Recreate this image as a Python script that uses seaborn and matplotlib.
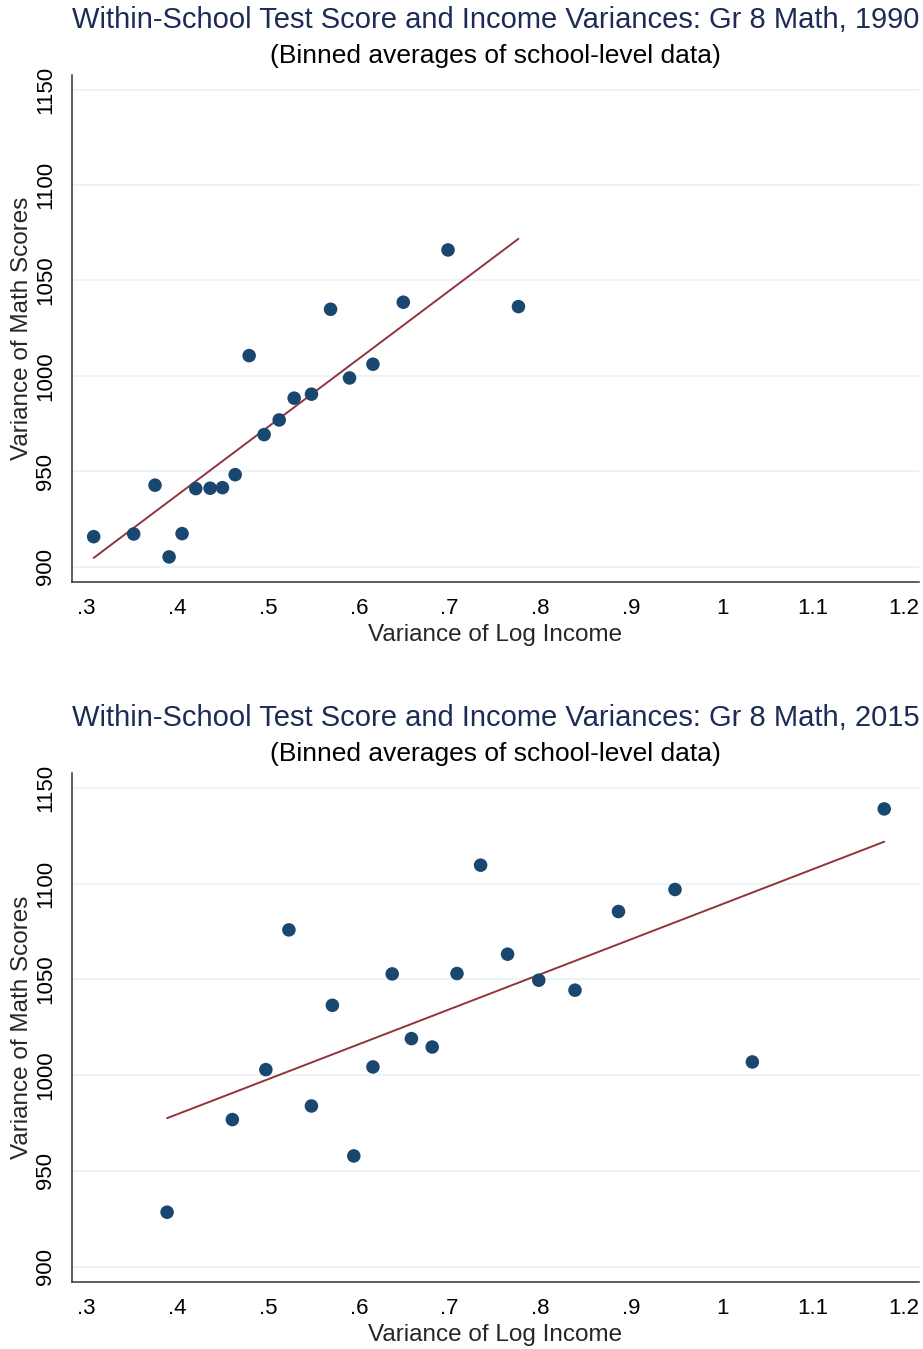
import numpy as np
import pandas as pd
import matplotlib
matplotlib.use("Agg")
import matplotlib.pyplot as plt
import seaborn as sns

# ---- data ----
x_1990 = [0.3077, 0.3518, 0.3753, 0.3908, 0.4051, 0.4202, 0.4360, 0.4496, 0.4636, 0.4790,
          0.4955, 0.5121, 0.5286, 0.5477, 0.5687, 0.5896, 0.6154, 0.6488, 0.6981, 0.7757]
y_1990 = [915.7, 917.1, 942.7, 905.1, 917.3, 940.9, 941.1, 941.4, 948.2, 1010.6,
          969.2, 976.9, 988.3, 990.4, 1034.9, 998.9, 1006.1, 1038.6, 1066.0, 1036.3]
fit_1990 = [794.6, 357.4]  # intercept, slope

x_2015 = [0.3886, 0.4605, 0.4974, 0.5228, 0.5476, 0.5707, 0.5943, 0.6154, 0.6366, 0.6578,
          0.6807, 0.7080, 0.7340, 0.7637, 0.7981, 0.8380, 0.8859, 0.9482, 1.0334, 1.1787]
y_2015 = [928.4, 976.8, 1002.9, 1075.9, 983.9, 1036.5, 957.8, 1004.3, 1052.9, 1019.1,
          1014.7, 1053.1, 1109.7, 1063.2, 1049.6, 1044.4, 1085.5, 1097.0, 1006.9, 1139.1]
fit_2015 = [906.5, 182.8]

x_ticks = [0.3, 0.4, 0.5, 0.6, 0.7, 0.8, 0.9, 1.0, 1.1, 1.2]
x_ticklabels = [".3", ".4", ".5", ".6", ".7", ".8", ".9", "1", "1.1", "1.2"]
y_ticks = [900, 950, 1000, 1050, 1100, 1150]

titles = ["Within-School Test Score and Income Variances: Gr 8 Math, 1990",
          "Within-School Test Score and Income Variances: Gr 8 Math, 2015"]
subtitle = "(Binned averages of school-level data)"
xlabel = "Variance of Log Income"
ylabel = "Variance of Math Scores"

# ---- style ----
sns.set_theme(style="white")
plt.rcParams["font.family"] = ["Liberation Sans", "DejaVu Sans"]

POINT = "#1a476f"
LINE = "#90353b"
GRID = "#eaf2f3"
TITLE = "#1c2c56"
AXC = "#333333"

fig = plt.figure(figsize=(9.23, 13.49), dpi=100)
W, H = 923, 1349

def add_axes(left, top, right, bottom):
    return fig.add_axes([left / W, 1 - bottom / H, (right - left) / W, (bottom - top) / H])

ax1 = add_axes(71.7, 75, 919, 581.7)
ax2 = add_axes(71.7, 773.3, 919, 1281.7)

panels = [(ax1, x_1990, y_1990, fit_1990, titles[0]),
          (ax2, x_2015, y_2015, fit_2015, titles[1])]

for ax, xs, ys, fit, title in panels:
    df = pd.DataFrame({"x": xs, "y": ys})
    xl = np.array([min(xs), max(xs)])
    line_df = pd.DataFrame({"x": xl, "y": fit[0] + fit[1] * xl})
    for yt in y_ticks:
        ax.axhline(yt, color=GRID, lw=1.3, zorder=0)
    sns.lineplot(data=line_df, x="x", y="y", ax=ax, color=LINE, lw=1.4, zorder=2)
    sns.scatterplot(data=df, x="x", y="y", ax=ax, color=POINT, s=95,
                    edgecolor="none", linewidth=0, zorder=3)
    ax.set_xlim(0.2835, 1.217)
    ax.set_ylim(892.1, 1157.7)
    ax.set_xticks(x_ticks)
    ax.set_xticklabels(x_ticklabels)
    ax.set_yticks(y_ticks)
    ax.set_yticklabels([str(v) for v in y_ticks], rotation=90, va="center")
    ax.tick_params(axis="both", direction="out", length=7, width=1.0, color=AXC,
                   labelsize=16, labelcolor="black", pad=5)
    ax.tick_params(axis="y", pad=4)
    for s in ["top", "right"]:
        ax.spines[s].set_visible(False)
    for s in ["left", "bottom"]:
        ax.spines[s].set_color(AXC)
        ax.spines[s].set_linewidth(1.1)
    ax.set_xlabel(xlabel, fontsize=17.5, labelpad=3)
    ax.set_ylabel(ylabel, fontsize=17.5, labelpad=2)
    ax.text(0.5, 1.0 + 55 / 506.7, title, transform=ax.transAxes, ha="center",
            va="center", fontsize=21, color=TITLE)
    ax.text(0.5, 1.0 + 19 / 506.7, subtitle, transform=ax.transAxes, ha="center",
            va="center", fontsize=19, color="black")
    ax.grid(False)

fig.savefig("out.png", dpi=100)
